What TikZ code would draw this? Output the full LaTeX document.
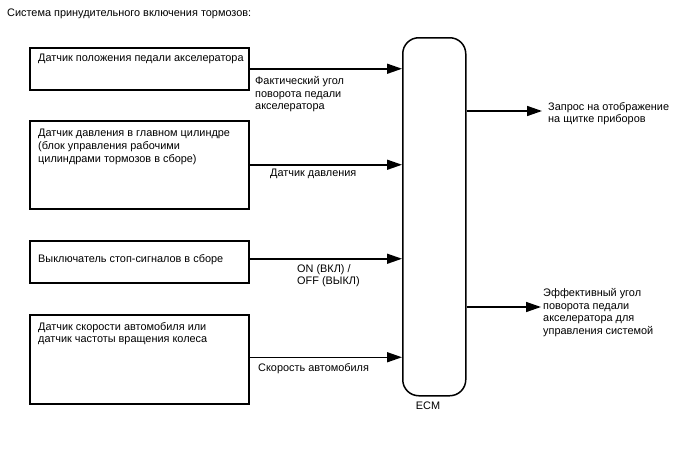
\documentclass[tikz,border=0pt]{standalone}
\usepackage{fontspec}
\setmainfont{Liberation Sans}
\usetikzlibrary{arrows.meta}
\begin{document}
\begin{tikzpicture}[x=1pt,y=-1pt,
  box/.style={draw,line width=1.5pt,anchor=north west,inner sep=0pt},
  txt/.style={anchor=north west,inner sep=0pt,align=left,font=\fontsize{10.9}{12.8}\selectfont},
  arr/.style={line width=1.5pt,-{Triangle[length=15pt,width=10pt]}},
  ln/.style={line width=1.5pt}]
\useasboundingbox (0,0) rectangle (688,463);
\node[txt] (title) at (7,9) {Система принудительного включения тормозов:};
% boxes
\node[box,minimum width=219pt,minimum height=42pt] (b1) at (29,47) {};
\node[box,minimum width=219pt,minimum height=88pt] (b2) at (29,120) {};
\node[box,minimum width=219pt,minimum height=42pt] (b3) at (29,240) {};
\node[box,minimum width=219pt,minimum height=89pt] (b4) at (29,314) {};
\node[txt] (t1) at (38,54) {Датчик положения педали акселератора};
\node[txt] (t2) at (38,129) {Датчик давления в главном цилиндре\\(блок управления рабочими\\цилиндрами тормозов в сборе)};
\node[txt] (t3) at (38,254) {Выключатель стоп-сигналов в сборе};
\node[txt] (t4) at (38,322) {Датчик скорости автомобиля или\\датчик частоты вращения колеса};
% ECM
\node[draw,line width=1.5pt,rounded corners=16pt,anchor=north west,minimum width=63pt,minimum height=358pt,inner sep=0pt] (ecm) at (402,37) {};
\node[txt,anchor=north] (ecml) at (428,402) {ECM};
% inputs
\draw[arr] (b1.east) -- (b1.east -| ecm.west);
\draw[arr] (b2.east) -- (b2.east -| ecm.west);
\draw[arr] ([yshift=3pt]b3.east) -- ([yshift=3pt]b3.east -| ecm.west);
\draw[arr] ([yshift=2pt]b4.east) -- ([yshift=2pt]b4.east -| ecm.west);
\node[txt] (l1) at (255,76) {Фактический угол\\поворота педали\\акселератора};
\node[txt] (l2) at (270,169) {Датчик давления};
\node[txt] (l3) at (297,264) {ON (ВКЛ) /\\OFF (ВЫКЛ)};
\node[txt] (l4) at (258,363) {Скорость автомобиля};
% outputs
\coordinate (o1) at (542,111);
\coordinate (o2) at (541,307);
\draw[arr] (ecm.east |- o1) -- (o1);
\draw[arr] (ecm.east |- o2) -- (o2);
\node[txt] (r1) at (548,102) {Запрос на отображение\\на щитке приборов};
\node[txt] (r2) at (543,288) {Эффективный угол\\поворота педали\\акселератора для\\управления системой};
\end{tikzpicture}
\end{document}
